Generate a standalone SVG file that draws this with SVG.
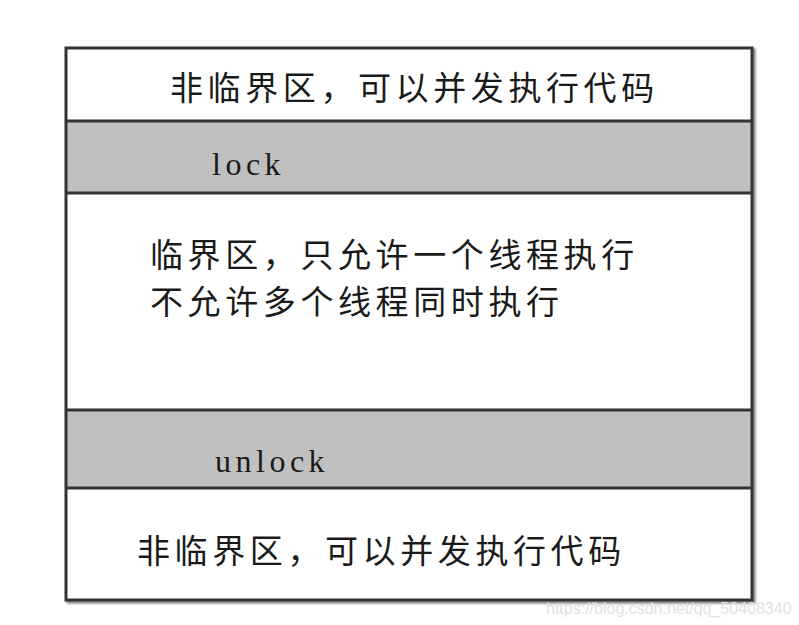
<svg xmlns="http://www.w3.org/2000/svg" width="799" height="625" viewBox="0 0 799 625">
<defs>
<filter id="sh" x="-5%" y="-5%" width="110%" height="110%"><feGaussianBlur stdDeviation="1"/></filter>
</defs>
<style>
.cjk{font-family:"Noto Sans CJK SC","Noto Sans",sans-serif;font-size:33px;letter-spacing:4.6px;fill:#1a1a1a}
.mono{font-family:"Liberation Serif","DejaVu Serif",serif;font-size:32px;fill:#1a1a1a;letter-spacing:4.5px}
.band{fill:#c0c0c0}
.ln{stroke:#333;stroke-width:3;fill:none}
.shadow{stroke:#777;stroke-width:3;fill:none;filter:url(#sh)}
</style>
<rect width="799" height="625" fill="#fff"/>
<g id="shadows">
<rect x="68" y="50" width="686" height="552" class="shadow"/>
</g>
<g id="top">
<rect x="66" y="48" width="686" height="73" fill="#fff"/>
<text class="cjk" x="170" y="100">非临界区，可以并发执行代码</text>
</g>
<g id="lock">
<rect x="66" y="121" width="686" height="72" class="band"/>
<text class="mono" x="212" y="175">lock</text>
</g>
<g id="critical">
<rect x="66" y="193" width="686" height="217" fill="#fff"/>
<text class="cjk" x="150" y="267">临界区，只允许一个线程执行</text>
<text class="cjk" x="150" y="314">不允许多个线程同时执行</text>
</g>
<g id="unlock">
<rect x="66" y="410" width="686" height="78" class="band"/>
<text class="mono" x="215" y="472">unlock</text>
</g>
<g id="bottom">
<rect x="66" y="488" width="686" height="112" fill="#fff"/>
<text class="cjk" x="137" y="563">非临界区，可以并发执行代码</text>
</g>
<g id="connectors">
<rect x="66" y="48" width="686" height="552" class="ln"/>
<line x1="66" y1="121" x2="752" y2="121" class="ln"/>
<line x1="66" y1="193" x2="752" y2="193" class="ln"/>
<line x1="66" y1="410" x2="752" y2="410" class="ln"/>
<line x1="66" y1="488" x2="752" y2="488" class="ln"/>
</g>
<text x="546" y="614" font-family="Liberation Sans,sans-serif" font-size="16" fill="#e2e2e2">https://blog.csdn.net/qq_50408340</text>
</svg>
